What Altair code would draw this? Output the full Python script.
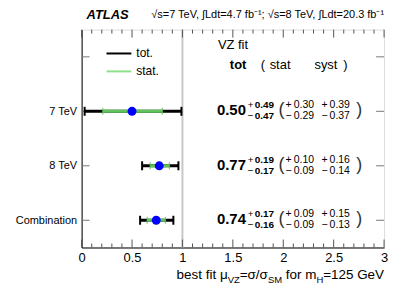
import altair as alt
import pandas as pd

# ---------------- data ----------------
labels = ["7 TeV", "8 TeV", "Combination"]
positions = [2, 1, 0]
mu = [0.50, 0.77, 0.74]
tot_up = [0.49, 0.19, 0.17]
tot_dn = [0.47, 0.17, 0.16]
stat_up = [0.30, 0.10, 0.09]
stat_dn = [0.29, 0.09, 0.09]
syst_up = [0.39, 0.16, 0.15]
syst_dn = [0.37, 0.14, 0.13]

x_major = [0, 0.5, 1, 1.5, 2, 2.5, 3]
x_minor = [round(i * 0.1, 1) for i in range(31) if i % 5 != 0]
y_ticks = [0, 1, 2, 3]
legend_items = ["tot.", "stat."]

TS = "\u2009"
df = pd.DataFrame({
    "label": labels, "pos": positions, "mu": mu,
    "tot_lo": [m - d for m, d in zip(mu, tot_dn)],
    "tot_hi": [m + u for m, u in zip(mu, tot_up)],
    "stat_lo": [m - d for m, d in zip(mu, stat_dn)],
    "stat_hi": [m + u for m, u in zip(mu, stat_up)],
    "val": [f"{m:.2f}" for m in mu],
    "tup": [f"{v:.2f}" for v in tot_up],
    "tdn": [f"{v:.2f}" for v in tot_dn],
    "sup": [f"+{TS}{v:.2f}" for v in stat_up],
    "sdn": [f"\u2212{TS}{v:.2f}" for v in stat_dn],
    "yup": [f"+{TS}{v:.2f}" for v in syst_up],
    "ydn": [f"\u2212{TS}{v:.2f}" for v in syst_dn],
})

W, H = 304, 219
FONT = "Liberation Sans"
GREEN = "#5cc45a"

xscale = alt.Scale(domain=[0, 3], nice=False, zero=False)
yscale = alt.Scale(domain=[-0.5, 3.5], nice=False, zero=False)
xaxis = alt.Axis(values=x_major, tickSize=0, labelFontSize=13, labelPadding=4,
                 labelColor="black", domainColor="black", grid=False, title=None,
                 labelExpr="datum.value", labelFlush=False, labelFont=FONT)
ylabel_expr = " : ".join(f"datum.value == {p} ? '{l}'" for p, l in zip(positions, labels)) + " : ''"
yaxis = alt.Axis(values=y_ticks, tickSize=0, labelFontSize=11, labelPadding=5,
                 labelColor="black", domainColor="black", grid=False, title=None,
                 labelExpr=ylabel_expr, labelFont=FONT)


def X(f):
    return alt.X(f, type="quantitative", scale=xscale, axis=xaxis)


def Y(f):
    return alt.Y(f, type="quantitative", scale=yscale, axis=yaxis)


layers = []

# reference line at mu = 1
layers.append(alt.Chart(pd.DataFrame({"x": [1.0]})).mark_rule(color="#c8c8c8", strokeWidth=2)
              .encode(x=X("x")))

# frame ticks
ydf = pd.DataFrame({"y": y_ticks})
layers.append(alt.Chart(ydf).mark_rule(color="#777777", strokeWidth=1)
              .encode(y=Y("y"), x=alt.value(0), x2=alt.value(8)))
layers.append(alt.Chart(ydf).mark_rule(color="#777777", strokeWidth=1)
              .encode(y=Y("y"), x=alt.value(W - 8), x2=alt.value(W)))
for vals, ln in [(x_major, 8), (x_minor, 4)]:
    xdf = pd.DataFrame({"x": vals})
    layers.append(alt.Chart(xdf).mark_rule(color="#555555", strokeWidth=1)
                  .encode(x=X("x"), y=alt.value(H), y2=alt.value(H - ln)))
    layers.append(alt.Chart(xdf).mark_rule(color="#555555", strokeWidth=1)
                  .encode(x=X("x"), y=alt.value(0), y2=alt.value(ln)))

base = alt.Chart(df)
# total error bars
layers.append(base.mark_rule(color="black", strokeWidth=3)
              .encode(x=X("tot_lo"), x2="tot_hi", y=Y("pos")))
for f in ["tot_lo", "tot_hi"]:
    layers.append(base.mark_tick(color="black", orient="vertical", size=9, thickness=2, opacity=1)
                  .encode(x=X(f), y=Y("pos")))
# stat error bars
layers.append(base.mark_rule(color=GREEN, strokeWidth=3)
              .encode(x=X("stat_lo"), x2="stat_hi", y=Y("pos")))
for f in ["stat_lo", "stat_hi"]:
    layers.append(base.mark_tick(color=GREEN, orient="vertical", size=7, thickness=1, opacity=1)
                  .encode(x=X(f), y=Y("pos")))
# central values
layers.append(base.mark_circle(color="#0000ff", size=80, opacity=1)
              .encode(x=X("mu"), y=Y("pos")))


def rowtext(field, xpx, dy, size, weight="normal", color="black"):
    return base.mark_text(align="left", baseline="middle", dy=dy, fontSize=size,
                          fontWeight=weight, font=FONT, color=color).encode(
        x=alt.value(xpx), y=Y("pos"), text=f"{field}:N")


layers.append(rowtext("val", 136, -1, 15, "bold"))
layers.append(base.mark_text(align="left", baseline="middle", dy=-6, fontSize=10, font=FONT)
              .encode(x=alt.value(167), y=Y("pos"), text=alt.value("+")))
layers.append(base.mark_text(align="left", baseline="middle", dy=5, fontSize=10, font=FONT)
              .encode(x=alt.value(167), y=Y("pos"), text=alt.value("\u2212")))
layers.append(rowtext("tup", 174, -6, 10, "bold"))
layers.append(rowtext("tdn", 174, 5, 10, "bold"))
layers.append(base.mark_text(align="left", baseline="middle", dy=-1, fontSize=18, font=FONT,
                             color="#333333")
              .encode(x=alt.value(198), y=Y("pos"), text=alt.value("(")))
layers.append(base.mark_text(align="left", baseline="middle", dy=-1, fontSize=18, font=FONT,
                             color="#333333")
              .encode(x=alt.value(276), y=Y("pos"), text=alt.value(")")))
layers.append(rowtext("sup", 205, -6, 10.5))
layers.append(rowtext("sdn", 205, 5, 10.5))
layers.append(rowtext("yup", 241, -6, 10.5))
layers.append(rowtext("ydn", 241, 5, 10.5))


def fixed_text(txt, xpx, ypx, size, weight="normal", style="normal", align="left",
               baseline="middle"):
    return alt.Chart(pd.DataFrame({"t": [txt]})).mark_text(
        align=align, baseline=baseline, fontSize=size, fontWeight=weight, fontStyle=style,
        font=FONT, color="black").encode(x=alt.value(xpx), y=alt.value(ypx), text="t:N")


# headers
layers.append(fixed_text("VZ fit", 137, 15, 13))
layers.append(fixed_text("tot", 149, 36, 13, "bold"))
layers.append(fixed_text("(", 180, 36, 13))
layers.append(fixed_text("stat", 189, 36, 13))
layers.append(fixed_text("syst", 234, 36, 13))
layers.append(fixed_text(")", 263, 36, 13))

# legend
leg_y = [24, 42]
leg_col = ["black", "#8fe08a"]
for item, ly, c in zip(legend_items, leg_y, leg_col):
    layers.append(alt.Chart(pd.DataFrame({"t": [item]})).mark_rule(color=c, strokeWidth=2)
                  .encode(x=alt.value(25), x2=alt.value(50), y=alt.value(ly)))
    layers.append(fixed_text(item, 55, ly, 12))

# top labels
layers.append(fixed_text("ATLAS", 5, -11, 13, "bold", "italic", baseline="alphabetic"))
layers.append(fixed_text("\u221as=7 TeV, \u222bLdt=4.7 fb\u207b\u00b9; \u221as=8 TeV, \u222bLdt=20.3 fb\u207b\u00b9",
                         W, -12, 11, align="right", baseline="alphabetic"))

# axis title with subscripts
AW = {' ': 278, 'b': 556, 'e': 556, 's': 500, 't': 278, 'f': 278, 'i': 222, 'o': 556,
      'r': 333, 'm': 833, '1': 556, '2': 556, '5': 556, 'G': 778, 'V': 667, 'Z': 611,
      'S': 667, 'M': 833, 'H': 722, '=': 584, '/': 278, '\u03bc': 576, '\u03c3': 617}
MAIN, SUB = 13.5, 9.5
# (text, font size, leading gap in em of the main font)
segments = [("best fit \u03bc", MAIN, 0), ("VZ", SUB, 0), ("=\u03c3/\u03c3", MAIN, 0),
            ("SM", SUB, 0), ("for m", MAIN, 0.278), ("H", SUB, 0), ("=125 GeV", MAIN, 0)]
widths = [sum(AW.get(ch, 556) for ch in s) / 1000 * fs + g * MAIN for s, fs, g in segments]
xpos = W - sum(widths)
for (s, fs, g), w in zip(segments, widths):
    ybase = 251 if fs == MAIN else 255
    layers.append(fixed_text(s, xpos + g * MAIN, ybase, fs, baseline="alphabetic"))
    xpos += w

chart = alt.layer(*layers).properties(
    width=W, height=H,
    autosize=alt.AutoSizeParams(type="none"),
    padding={"left": 74, "top": 21, "right": 15, "bottom": 40},
).configure_view(stroke="black", strokeWidth=1).configure(font=FONT)

chart.save("out.html", embed_options={"renderer": "svg", "actions": False})
